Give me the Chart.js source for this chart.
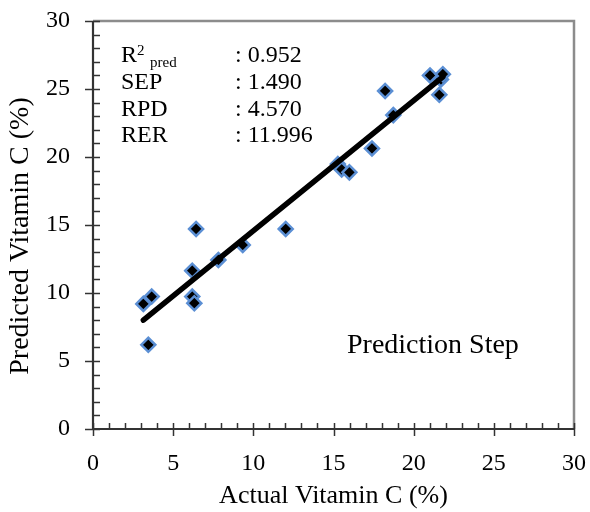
<!DOCTYPE html>
<html>
<head>
<meta charset="utf-8">
<script src="https://cdn.jsdelivr.net/npm/chart.js@4/dist/chart.umd.min.js"></script>
<style>
  html, body { margin: 0; padding: 0; background: #fff; }
</style>
</head>
<body>
<canvas id="vitChart" width="590" height="512"></canvas>
<script>
const actual    = [3.14, 3.66, 3.45, 6.43, 6.19, 6.19, 6.32, 7.82, 9.34, 12.02,
                   15.27, 15.51, 15.99, 17.40, 18.22, 18.73, 21.02, 21.60, 21.70, 21.82];
const predicted = [9.20, 9.74, 6.19, 14.71, 11.64, 9.74, 9.25, 12.43, 13.53, 14.71,
                   19.48, 19.09, 18.87, 20.63, 24.86, 23.08, 26.00, 24.57, 25.70, 26.09];

// fitted line end points
const trendX = [3.14, 21.82];
const trendY = [8.00, 25.90];

const axisMin = 0;
const axisMax = 30;

const statNames  = ['SEP', 'RPD', 'RER'];
const statValues = ['0.952', '1.490', '4.570', '11.996'];
const stepLabel  = 'Prediction Step';
const yTitle     = 'Predicted Vitamin C (%)';

const serif = '"Liberation Serif", "Times New Roman", serif';

// axis frame with inside minor ticks and crossing major ticks
const framePlugin = {
    id: 'frame',
    beforeDatasetsDraw(chart) {
        const { ctx, chartArea: a, scales } = chart;
        ctx.save();
        // top and right border
        ctx.strokeStyle = '#8c8c8c';
        ctx.lineWidth = 2.5;
        ctx.beginPath();
        ctx.moveTo(a.left, a.top);
        ctx.lineTo(a.right, a.top);
        ctx.lineTo(a.right, a.bottom);
        ctx.stroke();

        ctx.strokeStyle = '#333';
        ctx.lineWidth = 1.5;
        for (let v = axisMin; v <= axisMax; v++) {
            const major = v % 5 === 0;
            const px = Math.round(scales.x.getPixelForValue(v)) + 0.5;
            ctx.beginPath();
            ctx.moveTo(px, a.bottom - 6);
            ctx.lineTo(px, a.bottom + (major ? 7 : 0));
            ctx.stroke();
            const py = Math.round(scales.y.getPixelForValue(v)) + 0.5;
            ctx.beginPath();
            ctx.moveTo(a.left - (major ? 8 : 0), py);
            ctx.lineTo(a.left + 7, py);
            ctx.stroke();
        }
        // left and bottom axis lines
        ctx.lineWidth = 2.2;
        ctx.beginPath();
        ctx.moveTo(a.left, a.top);
        ctx.lineTo(a.left, a.bottom);
        ctx.lineTo(a.right, a.bottom);
        ctx.stroke();
        ctx.restore();
    },
    afterDraw(chart) {
        const ctx = chart.ctx;
        ctx.save();
        ctx.fillStyle = '#000';
        ctx.textBaseline = 'alphabetic';
        ctx.textAlign = 'left';
        const rowY = [62, 88.5, 115.5, 142];
        // R² pred row
        ctx.font = '24px ' + serif;
        ctx.fillText('R', 121, rowY[0]);
        ctx.font = '15px ' + serif;
        ctx.fillText('2', 137, 55);
        ctx.fillText('pred', 150, 67);
        ctx.font = '24px ' + serif;
        statNames.forEach((n, i) => ctx.fillText(n, 121, rowY[i + 1]));
        statValues.forEach((v, i) => ctx.fillText(': ' + v, 235, rowY[i]));
        ctx.font = '28px ' + serif;
        ctx.fillText(stepLabel, 347, 353);

        // y axis title, rotated
        ctx.translate(21, 236);
        ctx.rotate(-Math.PI / 2);
        ctx.textAlign = 'center';
        ctx.textBaseline = 'middle';
        ctx.font = '28px ' + serif;
        ctx.fillText(yTitle, 0, 0);
        ctx.restore();
    }
};

const ctx = document.getElementById('vitChart').getContext('2d');
new Chart(ctx, {
    type: 'scatter',
    data: {
        datasets: [{
            label: 'Samples',
            data: actual.map((x, i) => ({ x: x, y: predicted[i] })),
            pointStyle: 'rectRot',
            pointRadius: 7,
            pointBorderWidth: 2.5,
            backgroundColor: '#000',
            borderColor: '#5b8fd4',
            order: 2
        }, {
            type: 'line',
            label: 'Fit',
            data: trendX.map((x, i) => ({ x: x, y: trendY[i] })),
            borderColor: '#000',
            borderWidth: 5.5,
            borderCapStyle: 'round',
            pointRadius: 0,
            fill: false,
            order: 1
        }]
    },
    options: {
        responsive: false,
        animation: false,
        layout: { padding: { top: 21, right: 16, left: 0, bottom: 0 } },
        plugins: {
            legend: { display: false },
            tooltip: { enabled: false }
        },
        scales: {
            x: {
                type: 'linear',
                min: axisMin,
                max: axisMax,
                grid: { display: false, drawTicks: false },
                border: { display: false },
                ticks: { stepSize: 5, color: '#000', padding: 20, font: { family: serif, size: 24 } },
                title: { display: true, text: 'Actual Vitamin C (%)', color: '#000', padding: 0,
                         font: { family: serif, size: 26 } },
                afterFit: s => { s.height = 83; s.paddingLeft = 0; s.paddingRight = 0; }
            },
            y: {
                type: 'linear',
                min: axisMin,
                max: axisMax,
                grid: { display: false, drawTicks: false },
                border: { display: false },
                ticks: { stepSize: 5, color: '#000', padding: 23, font: { family: serif, size: 24 } },
                afterFit: s => { s.width = 93; s.paddingTop = 0; s.paddingBottom = 0; }
            }
        }
    },
    plugins: [framePlugin]
});
</script>
</body>
</html>
